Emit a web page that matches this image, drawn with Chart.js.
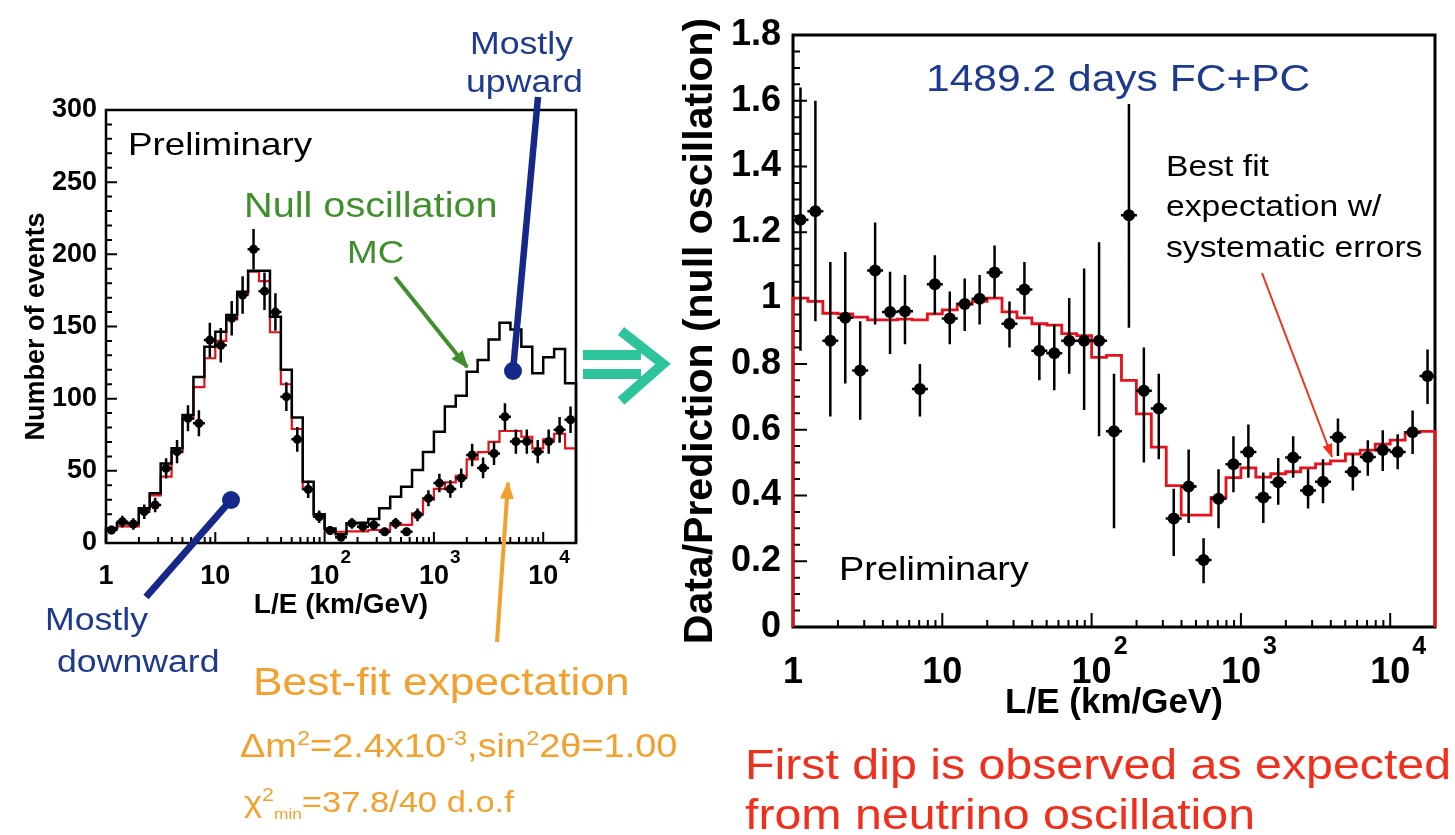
<!DOCTYPE html>
<html>
<head>
<meta charset="utf-8">
<script src="https://cdn.jsdelivr.net/npm/chart.js@4.4.1/dist/chart.umd.min.js"></script>
<style>
  body { margin: 0; background: #fff; }
  #page { position: relative; width: 1455px; height: 835px; overflow: hidden; background: #fff;
          font-family: "Liberation Sans", Arial, Helvetica, sans-serif; }
  canvas { position: absolute; }
  svg { position: absolute; left: 0; top: 0; }
  .t { position: absolute; white-space: nowrap; line-height: 1; transform: scaleX(1.15); transform-origin: 0 0; }
  .t sup { font-size: 0.62em; line-height: 0; }
  .t sub { font-size: 0.5em; line-height: 0; }
  .blue { color: #1d3a8e; }
  .green { color: #3f8f2a; }
  .orange { color: #f2a12e; }
  .red { color: #f0301c; }
</style>
</head>
<body>
<div id="page">
  <canvas id="eventsChart" width="600" height="640" style="left:0;top:0"></canvas>
  <canvas id="ratioChart" width="815" height="740" style="left:640px;top:0"></canvas>

  <svg width="1455" height="835">
    <defs>
      <marker id="headGreen" markerUnits="userSpaceOnUse" markerWidth="18" markerHeight="14" refX="16" refY="7" orient="auto">
        <path d="M0,0 L18,7 L0,14 z" fill="#3f8f2a"/>
      </marker>
      <marker id="headOrange" markerUnits="userSpaceOnUse" markerWidth="18" markerHeight="14" refX="16" refY="7" orient="auto">
        <path d="M0,0 L18,7 L0,14 z" fill="#f2a12e"/>
      </marker>
      <marker id="headRed" markerUnits="userSpaceOnUse" markerWidth="14" markerHeight="10" refX="13" refY="5" orient="auto">
        <path d="M0,0 L14,5 L0,10 z" fill="#f0301c"/>
      </marker>
    </defs>
    <!-- Mostly upward / downward pointers -->
    <line x1="538" y1="97" x2="513" y2="371" stroke="#16298a" stroke-width="6.5"/>
    <circle cx="513" cy="371" r="9" fill="#16298a"/>
    <line x1="146" y1="597" x2="231" y2="500" stroke="#16298a" stroke-width="7"/>
    <circle cx="231" cy="500" r="9" fill="#16298a"/>
    <!-- annotation arrows -->
    <line x1="395" y1="277" x2="467" y2="367" stroke="#3f8f2a" stroke-width="4" marker-end="url(#headGreen)"/>
    <line x1="497" y1="642" x2="508" y2="483" stroke="#f2a12e" stroke-width="4" marker-end="url(#headOrange)"/>
    <line x1="1262" y1="273" x2="1332" y2="457" stroke="#f0301c" stroke-width="2" marker-end="url(#headRed)"/>
    <!-- big double arrow -->
    <rect x="583" y="350" width="58" height="10" fill="#2ec49b"/>
    <rect x="583" y="369" width="58" height="10" fill="#2ec49b"/>
    <polyline points="621,331 663,364 621,401" fill="none" stroke="#2ec49b" stroke-width="10"/>
  </svg>

  <div class="t" style="left:128px;top:128px;font-size:32px">Preliminary</div>
  <div class="t green" style="left:244px;top:188px;font-size:34.5px">Null oscillation</div>
  <div class="t green" style="left:347px;top:236px;font-size:32px">MC</div>
  <div class="t blue" style="left:470px;top:28px;font-size:31px">Mostly</div>
  <div class="t blue" style="left:466px;top:66px;font-size:31px">upward</div>
  <div class="t blue" style="left:45px;top:604px;font-size:31px">Mostly</div>
  <div class="t blue" style="left:57px;top:646px;font-size:31px">downward</div>
  <div class="t orange" style="left:253px;top:663px;font-size:38.5px">Best-fit expectation</div>
  <div class="t orange" style="left:240px;top:729px;font-size:33px">&Delta;m<sup>2</sup>=2.4x10<sup>-3</sup>,sin<sup>2</sup>2&theta;=1.00</div>
  <div class="t orange" style="left:244px;top:787px;font-size:30px">&chi;<sup>2</sup><sub>min</sub>=37.8/40 d.o.f</div>

  <div class="t blue" style="left:926px;top:60px;font-size:37px">1489.2 days FC+PC</div>
  <div class="t" style="left:1166px;top:151px;font-size:29.3px">Best fit</div>
  <div class="t" style="left:1166px;top:191px;font-size:29.3px">expectation w/</div>
  <div class="t" style="left:1166px;top:232px;font-size:29.3px">systematic errors</div>
  <div class="t" style="left:839px;top:552px;font-size:33px">Preliminary</div>
  <div class="t red" style="left:745px;top:744px;font-size:42px">First dip is observed as expected</div>
  <div class="t red" style="left:745px;top:794px;font-size:42px">from neutrino oscillation</div>
</div>

<script>
// log10(L/E) bin edges shared by both histograms
const binEdgesLog = [0.0, 0.1, 0.2, 0.3, 0.4, 0.5, 0.6, 0.7, 0.8, 0.9, 1.0, 1.1, 1.2, 1.3, 1.4, 1.5,
  1.6, 1.7, 1.8, 1.9, 2.0, 2.1, 2.2, 2.3, 2.4, 2.5, 2.6, 2.7, 2.8, 2.9, 3.0, 3.1, 3.2, 3.3, 3.4,
  3.5, 3.6, 3.7, 3.8, 3.9, 4.0, 4.1, 4.2, 4.3];
const xTickValues = [1, 10, 100, 1000, 10000];
const xTickBase = ['1', '10', '10', '10', '10'];
const xTickExp = ['', '', '2', '3', '4'];

// left panel: number of events
const eventsData = [9, 14.8, 13.2, 21.7, 26.3, 51.7, 63.3, 86.4, 83, 140.6, 137, 155.7, 171.8, 203.5,
  174.5, 160, 101.4, 71.8, 37.2, 18.2, 8.6, 4, 13.6, 11.3, 12.5, 7.8, 13.6, 7.8, 19.5, 31, 41.5,
  37.4, 45, 61, 52, 62, 87.5, 70.3, 70.3, 63.3, 70.3, 78.4, 85.4];
const eventsErr = [3, 4, 4, 5, 5, 7, 8, 9, 9, 12, 12, 12, 13, 14, 13, 13, 10, 8.5, 6, 4.3, 3, 2,
  3.7, 3.4, 3.5, 2.8, 3.7, 2.8, 4.4, 5.6, 6.4, 6.1, 6.7, 7.8, 7.2, 7.9, 9.4, 8.4, 8.4, 8, 8.4, 8.9, 9.2];
const eventsNullMC = [10, 13.6, 13.6, 24, 34.4, 55, 65.6, 88.7, 115, 136, 146.4, 158, 174, 188.7,
  188.7, 156.8, 120, 87, 42.5, 20, 10, 6, 13.6, 14, 16.7, 24, 32, 39, 50.5, 63, 77, 94.5, 102,
  118.7, 126.8, 141, 152.6, 148, 136, 117.6, 128.7, 134.4, 110.6];
const eventsBestFit = [10, 11.5, 11.5, 23, 33, 46, 63, 86, 108, 128, 140, 155, 173, 188, 181.5,
  146, 110, 79, 37.4, 19, 8.7, 7.8, 8, 8, 9, 9, 12.5, 12.5, 20.5, 30, 37.5, 42, 46.5, 58, 63, 70,
  77.6, 77.6, 73.6, 65.5, 71.8, 75.7, 65.5];

// right panel: data / prediction (null oscillation)
const ratioData = [1.238, 1.264, 0.87, 0.94, 0.78, 1.084, 0.958, 0.96, 0.724, 1.042, 0.938, 0.982,
  0.998, 1.078, 0.922, 1.026, 0.84, 0.832, 0.87, 0.87, 0.87, 0.595, 1.252, 0.718, 0.664, 0.33,
  0.427, 0.204, 0.39, 0.495, 0.532, 0.394, 0.44, 0.515, 0.415, 0.442, 0.577, 0.472, 0.517, 0.538,
  0.532, 0.592, 0.763];
const ratioErrHigh = [1.64, 1.6, 1.11, 1.14, 0.93, 1.23, 1.08, 1.07, 0.80, 1.13, 1.02, 1.06, 1.07,
  1.16, 0.99, 1.11, 0.92, 0.92, 1.0, 1.09, 1.17, 0.77, 1.59, 0.85, 0.77, 0.42, 0.54, 0.27, 0.48,
  0.58, 0.616, 0.47, 0.514, 0.58, 0.48, 0.51, 0.634, 0.526, 0.568, 0.598, 0.586, 0.658, 0.844];
const ratioErrLow = [0.84, 0.93, 0.64, 0.74, 0.63, 0.92, 0.83, 0.86, 0.64, 0.95, 0.86, 0.90, 0.92,
  1.0, 0.85, 0.95, 0.75, 0.72, 0.77, 0.66, 0.58, 0.30, 0.91, 0.50, 0.51, 0.216, 0.316, 0.133, 0.30,
  0.41, 0.454, 0.316, 0.372, 0.454, 0.36, 0.376, 0.52, 0.415, 0.46, 0.474, 0.48, 0.526, 0.678];
const ratioBestFit = [1.0, 0.99, 0.954, 0.952, 0.942, 0.934, 0.934, 0.936, 0.934, 0.952, 0.964,
  0.982, 0.99, 1.0, 0.958, 0.94, 0.922, 0.918, 0.892, 0.886, 0.82, 0.826, 0.75, 0.648, 0.547, 0.43,
  0.34, 0.34, 0.394, 0.454, 0.484, 0.456, 0.466, 0.472, 0.484, 0.496, 0.505, 0.526, 0.538, 0.556,
  0.568, 0.592, 0.595];

const FONT = "'Liberation Sans', 'DejaVu Sans', Arial, sans-serif";
Chart.defaults.color = '#000';
Chart.defaults.font.family = FONT;

const toLE = e => Math.pow(10, e);
const binCenters = binEdgesLog.slice(0, -1).map((e, i) => toLE((e + binEdgesLog[i + 1]) / 2));
const xMax = toLE(binEdgesLog[binEdgesLog.length - 1]);

// histogram outline: edges down to zero at both ends
let stepLine = (values) => {
    var pts = [{x: toLE(binEdgesLog[0]), y: 0}];
    values.forEach((v, i) => pts.push({x: toLE(binEdgesLog[i + 1]), y: v}));
    pts.push({x: xMax, y: 0});
    return pts;
}

// ROOT style frame with ticks drawn inside
const rootFrame = {
    id: 'rootFrame',
    beforeDatasetsDraw(chart, args, o) {
        const {ctx, chartArea: a, scales: {x, y}} = chart;
        ctx.save();
        ctx.strokeStyle = '#000';
        ctx.lineWidth = o.tickWidth;
        ctx.beginPath();
        var n = Math.round((y.max - y.min) / o.yMinorStep);
        for (var i = 0; i <= n; i++) {
            var v = y.min + i * o.yMinorStep;
            var py = y.getPixelForValue(v);
            var major = Math.abs(v / o.yMajorStep - Math.round(v / o.yMajorStep)) < 1e-6;
            ctx.moveTo(a.left, py);
            ctx.lineTo(a.left + (major ? o.majorLen : o.minorLen), py);
        }
        for (var d = 1; d <= x.max; d *= 10) {
            for (var m = 1; m <= 9; m++) {
                if (m * d > x.max) break;
                var px = x.getPixelForValue(m * d);
                ctx.moveTo(px, a.bottom);
                ctx.lineTo(px, a.bottom - (m === 1 ? o.majorLen : o.minorLen));
            }
        }
        ctx.stroke();
        ctx.lineWidth = o.frameWidth;
        ctx.strokeRect(a.left, a.top, a.right - a.left, a.bottom - a.top);
        ctx.restore();
    },
    // decade labels with raised exponents, placed on the x scale
    afterDraw(chart, args, o) {
        const {ctx, chartArea: a, scales: {x}} = chart;
        ctx.save();
        ctx.fillStyle = '#000';
        ctx.textBaseline = 'alphabetic';
        xTickValues.forEach((v, i) => {
            var px = x.getPixelForValue(v);
            var base = a.bottom + o.labelBaseline;
            ctx.font = 'bold ' + o.labelSize + 'px ' + FONT;
            ctx.textAlign = 'center';
            ctx.fillText(xTickBase[i], px, base);
            if (xTickExp[i]) {
                var w = ctx.measureText(xTickBase[i]).width;
                ctx.font = 'bold ' + o.expSize + 'px ' + FONT;
                ctx.textAlign = 'left';
                ctx.fillText(xTickExp[i], px + w / 2 + o.expGap, base - o.expRaise);
            }
        });
        ctx.restore();
    }
};

// vertical error bars under the data markers
const errorBars = {
    id: 'errorBars',
    beforeDatasetDraw(chart, args) {
        const ds = chart.data.datasets[args.index];
        if (!ds.errLow) return;
        const {ctx, scales: {x, y}} = chart;
        ctx.save();
        ctx.strokeStyle = '#000';
        ctx.lineWidth = ds.errWidth;
        ctx.beginPath();
        ds.data.forEach((p, i) => {
            var px = x.getPixelForValue(p.x);
            var py = y.getPixelForValue(p.y);
            ctx.moveTo(px, y.getPixelForValue(ds.errLow[i]));
            ctx.lineTo(px, y.getPixelForValue(ds.errHigh[i]));
            ctx.moveTo(px - ds.capHalf, py);
            ctx.lineTo(px + ds.capHalf, py);
        });
        ctx.stroke();
        ctx.restore();
    }
};

function xScale(titleSize, titlePad, axisHeight) {
    return {
        type: 'logarithmic', min: 1, max: xMax,
        afterBuildTicks: s => { s.ticks = xTickValues.map(v => ({value: v})); },
        afterFit: s => { s.height = axisHeight; },
        grid: {display: false, drawTicks: false},
        border: {display: false},
        ticks: {display: false},
        title: {display: true, text: 'L/E (km/GeV)', font: {size: titleSize, weight: 'bold'},
                padding: {top: 0, bottom: titlePad}}
    };
}

const events = binCenters.map((x, i) => ({x: x, y: eventsData[i]}));
new Chart(document.getElementById('eventsChart'), {
    type: 'scatter',
    data: {
        datasets: [{
            data: events, order: 0,
            errLow: eventsData.map((v, i) => v - eventsErr[i]),
            errHigh: eventsData.map((v, i) => v + eventsErr[i]),
            errWidth: 2.5, capHalf: 6,
            pointRadius: 4.5, pointBackgroundColor: '#000', pointBorderWidth: 0
        }, {
            type: 'line', data: stepLine(eventsNullMC), order: 1, stepped: 'after',
            borderColor: '#000', borderWidth: 2.5, pointRadius: 0, showLine: true, clip: 3
        }, {
            type: 'line', data: stepLine(eventsBestFit), order: 2, stepped: 'after',
            borderColor: '#e8101a', borderWidth: 2.2, pointRadius: 0, showLine: true, clip: 3
        }]
    },
    options: {
        responsive: false, animation: false,
        layout: {padding: {left: 0, right: 24, top: 110, bottom: 0}},
        plugins: {
            legend: {display: false}, tooltip: {enabled: false},
            rootFrame: {yMinorStep: 10, yMajorStep: 50, majorLen: 11, minorLen: 6, tickWidth: 2, frameWidth: 2.5,
                        labelSize: 27, labelBaseline: 41, expSize: 19, expRaise: 21, expGap: 1}
        },
        scales: {
            x: xScale(28, 18, 97),
            y: {
                min: 0, max: 300,
                afterFit: s => { s.width = 106; },
                grid: {display: false, drawTicks: false},
                border: {display: false},
                ticks: {stepSize: 50, padding: 9, font: {size: 27, weight: 'bold'}},
                title: {display: true, text: 'Number of events', font: {size: 27, weight: 'bold'},
                        padding: {top: 20, bottom: 0}}
            }
        }
    },
    plugins: [rootFrame, errorBars]
});

const ratios = binCenters.map((x, i) => ({x: x, y: ratioData[i]}));
new Chart(document.getElementById('ratioChart'), {
    type: 'scatter',
    data: {
        datasets: [{
            data: ratios, order: 0,
            errLow: ratioErrLow, errHigh: ratioErrHigh,
            errWidth: 2.5, capHalf: 8,
            pointRadius: 6, pointBackgroundColor: '#000', pointBorderWidth: 0
        }, {
            type: 'line', data: stepLine(ratioBestFit), order: 1, stepped: 'after',
            borderColor: '#e8101a', borderWidth: 2.8, pointRadius: 0, showLine: true, clip: 3
        }]
    },
    options: {
        responsive: false, animation: false,
        layout: {padding: {left: 0, right: 20, top: 35, bottom: 0}},
        plugins: {
            legend: {display: false}, tooltip: {enabled: false},
            rootFrame: {yMinorStep: 0.05, yMajorStep: 0.2, majorLen: 14, minorLen: 7, tickWidth: 2, frameWidth: 3,
                        labelSize: 36, labelBaseline: 56, expSize: 25, expRaise: 29, expGap: 2}
        },
        scales: {
            x: xScale(35, 16, 113),
            y: {
                min: 0, max: 1.8,
                afterFit: s => { s.width = 153; },
                grid: {display: false, drawTicks: false},
                border: {display: false},
                ticks: {stepSize: 0.2, padding: 12, font: {size: 36, weight: 'bold'},
                        callback: v => String(Math.round(v * 10) / 10)},
                title: {display: true, text: 'Data/Prediction (null oscillation)', font: {size: 41, weight: 'bold'},
                        padding: {top: 36, bottom: 0}}
            }
        }
    },
    plugins: [rootFrame, errorBars]
});
</script>
</body>
</html>
